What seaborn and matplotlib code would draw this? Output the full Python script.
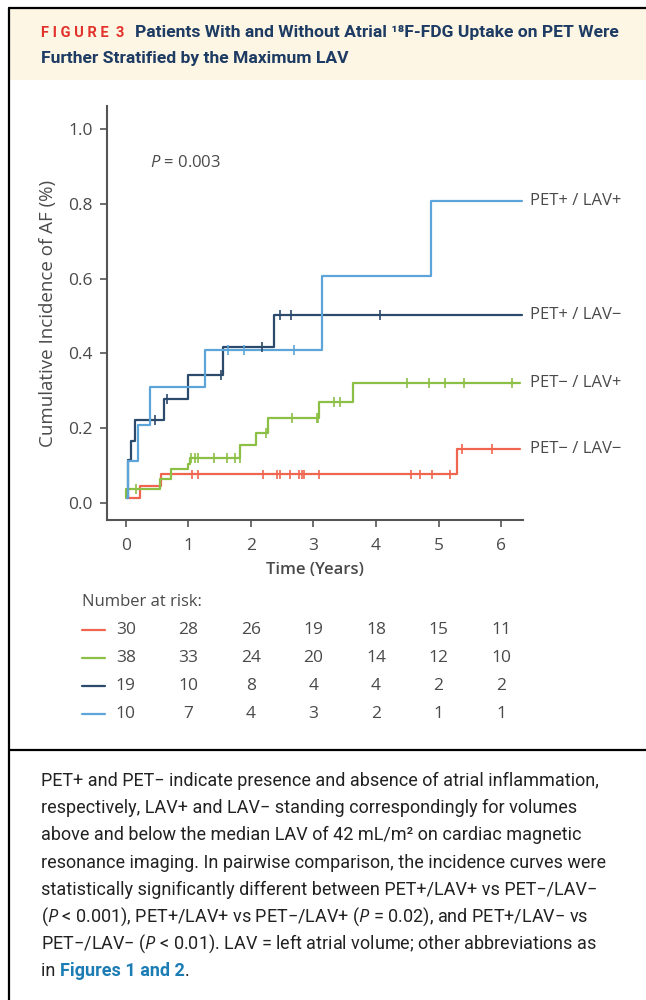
import numpy as np
import pandas as pd
import matplotlib
matplotlib.use("Agg")
import matplotlib.pyplot as plt
import matplotlib.transforms as mtransforms
from matplotlib.patches import Rectangle
from matplotlib.lines import Line2D
import seaborn as sns

# step curves: time (years) of each jump and the cumulative incidence after it
pp_t = [0.02, 0.03, 0.19, 0.39, 1.27, 3.14, 4.88, 6.33]
pp_y = [0.012, 0.112, 0.208, 0.311, 0.409, 0.607, 0.808, 0.808]
pm_t = [0.02, 0.03, 0.04, 0.085, 0.14, 0.61, 0.99, 1.56, 2.37, 6.33]
pm_y = [0.012, 0.06, 0.114, 0.166, 0.221, 0.277, 0.342, 0.418, 0.502, 0.502]
mp_t = [0.0, 0.01, 0.55, 0.73, 0.99, 1.02, 1.83, 2.08, 2.27, 3.09, 3.64, 6.31]
mp_y = [0.012, 0.038, 0.065, 0.090, 0.105, 0.120, 0.154, 0.187, 0.227, 0.270, 0.320, 0.320]
mm_t = [0.02, 0.22, 0.57, 5.30, 6.31]
mm_y = [0.012, 0.044, 0.076, 0.145, 0.145]

# censoring times
pp_cens = [1.64, 1.89, 2.69]
pm_cens = [0.46, 0.66, 1.52, 2.18, 2.47, 2.64, 4.07]
mp_cens = [0.165, 1.04, 1.10, 1.16, 1.41, 1.62, 1.75, 1.82, 2.24, 2.66, 3.05, 3.08,
           3.33, 3.43, 4.49, 4.85, 5.10, 5.40, 6.18]
mm_cens = [1.06, 1.16, 2.20, 2.41, 2.47, 2.62, 2.77, 2.81, 2.85, 3.09, 4.56, 4.70,
           4.89, 5.19, 5.38, 5.86]

groups = ["PET+ / LAV+", "PET+ / LAV\u2212", "PET\u2212 / LAV+", "PET\u2212 / LAV\u2212"]
colors = ["#5DA5D9", "#2C4A6B", "#8CBF45", "#F0654F"]

# number at risk (rows: PET-/LAV-, PET-/LAV+, PET+/LAV-, PET+/LAV+)
risk_times = [0, 1, 2, 3, 4, 5, 6]
risk_mm = [30, 28, 26, 19, 18, 15, 11]
risk_mp = [38, 33, 24, 20, 14, 12, 10]
risk_pm = [19, 10, 8, 4, 4, 2, 2]
risk_pp = [10, 7, 4, 3, 2, 1, 1]

caption_lines = [
    "PET+ and PET\u2212 indicate presence and absence of atrial inflammation,",
    "respectively, LAV+ and LAV\u2212 standing correspondingly for volumes",
    "above and below the median LAV of 42 mL/m\u00b2 on cardiac magnetic",
    "resonance imaging. In pairwise comparison, the incidence curves were",
    "statistically significantly different between PET+/LAV+ vs PET\u2212/LAV\u2212",
    "($P$ < 0.001), PET+/LAV+ vs PET\u2212/LAV+ ($P$ = 0.02), and PET+/LAV\u2212 vs",
    "PET\u2212/LAV\u2212 ($P$ < 0.01). LAV = left atrial volume; other abbreviations as",
]


def value_at(t, y, c):
    idx = np.searchsorted(t, c, side="right") - 1
    return np.asarray(y)[idx]


sns.set_style("ticks")
chart_font = ["Open Sans", "DejaVu Sans"]
text_font = ["Roboto", "DejaVu Sans"]
plt.rcParams["font.family"] = chart_font
plt.rcParams["mathtext.fontset"] = "custom"
plt.rcParams["mathtext.rm"] = "Open Sans"
plt.rcParams["mathtext.it"] = "Open Sans:italic"
grey = "#4a4a4a"

W, H = 646, 1000
fig = plt.figure(figsize=(W / 100, H / 100), dpi=100)


def fx(x):
    return x / W


def fy(y):
    return 1 - y / H


# frame, header band, divider
fig.add_artist(Rectangle((fx(9), fy(80)), 1, fy(8) - fy(80), transform=fig.transFigure,
                         facecolor="#FDF6E4", edgecolor="none", zorder=0))
fig.add_artist(Line2D([fx(9), fx(9)], [fy(8), 0], transform=fig.transFigure, color="black", lw=1.6))
fig.add_artist(Line2D([fx(9), 1], [fy(8), fy(8)], transform=fig.transFigure, color="black", lw=1.6))
fig.add_artist(Line2D([fx(9), 1], [fy(750), fy(750)], transform=fig.transFigure, color="black", lw=1.6))

fig.text(fx(41), fy(33), "F I G U R E  3", color="#E2302A", fontsize=10.5, fontweight="bold",
         family=text_font, va="center")
fig.text(fx(135), fy(33), "Patients With and Without Atrial \u00b9\u2078F-FDG Uptake on PET Were",
         color="#1D3B63", fontsize=12.6, fontweight="bold", family=text_font, va="center")
fig.text(fx(41), fy(58), "Further Stratified by the Maximum LAV",
         color="#1D3B63", fontsize=12.6, fontweight="bold", family=text_font, va="center")

# main plot
ax = fig.add_axes([fx(107), fy(520), fx(523) - fx(107), (520 - 106) / H])

curves = pd.concat([
    pd.DataFrame({"time": mm_t, "inc": mm_y, "group": groups[3]}),
    pd.DataFrame({"time": mp_t, "inc": mp_y, "group": groups[2]}),
    pd.DataFrame({"time": pm_t, "inc": pm_y, "group": groups[1]}),
    pd.DataFrame({"time": pp_t, "inc": pp_y, "group": groups[0]}),
], ignore_index=True)
cens = pd.concat([
    pd.DataFrame({"time": mm_cens, "inc": value_at(mm_t, mm_y, mm_cens), "group": groups[3]}),
    pd.DataFrame({"time": mp_cens, "inc": value_at(mp_t, mp_y, mp_cens), "group": groups[2]}),
    pd.DataFrame({"time": pm_cens, "inc": value_at(pm_t, pm_y, pm_cens), "group": groups[1]}),
    pd.DataFrame({"time": pp_cens, "inc": value_at(pp_t, pp_y, pp_cens), "group": groups[0]}),
], ignore_index=True)
pal = dict(zip(groups, colors))

sns.lineplot(data=curves, x="time", y="inc", hue="group", palette=pal,
             drawstyle="steps-post", estimator=None, linewidth=1.6, legend=False, ax=ax)
sns.scatterplot(data=cens, x="time", y="inc", hue="group", palette=pal, marker="|",
                s=50, linewidth=1.2, legend=False, ax=ax, zorder=3)

ax.set_xlim(-0.30, 6.35)
ax.set_ylim(-0.046, 1.062)
ax.set_xticks(range(7))
ax.set_yticks(np.arange(0, 1.01, 0.2))
ax.set_yticklabels([f"{v:.1f}" for v in np.arange(0, 1.01, 0.2)])
ax.tick_params(colors="#555555", labelcolor=grey, labelsize=12.5, length=5, width=1.2)
ax.tick_params(axis="x", pad=8)
ax.tick_params(axis="y", pad=5)
for s in ["left", "bottom"]:
    ax.spines[s].set_color("#555555")
    ax.spines[s].set_linewidth(1.5)
sns.despine(ax=ax)
ax.set_xlabel("Time (Years)", fontsize=12, color=grey, fontweight="semibold", labelpad=6)
ax.set_ylabel("Cumulative Incidence of AF (%)", fontsize=13.5, color=grey, labelpad=8)

ax.text(0.39, 0.909, "$P$ = 0.003", fontsize=12, color=grey, va="center")
for g, t, y in zip(groups, [pp_t, pm_t, mp_t, mm_t], [pp_y, pm_y, mp_y, mm_y]):
    ax.text(6.46, y[-1], g, fontsize=12, color=grey, va="center", ha="left", clip_on=False)

# number at risk table
fig.text(fx(82), fy(602), "Number at risk:", fontsize=12, color=grey, va="center")
row_tr = mtransforms.blended_transform_factory(ax.transData, fig.transFigure)
rows = [(risk_mm, colors[3]), (risk_mp, colors[2]), (risk_pm, colors[1]), (risk_pp, colors[0])]
for i, (vals, c) in enumerate(rows):
    yy = fy(630 + i * 28)
    fig.add_artist(Line2D([fx(82), fx(105)], [yy, yy], transform=fig.transFigure, color=c, lw=1.6))
    for t, v in zip(risk_times, vals):
        fig.text(t, yy, str(v), transform=row_tr, fontsize=12.5, color=grey,
                 ha="center", va="center")

# caption
cap_size = 13
for i, line in enumerate(caption_lines):
    fig.text(fx(41), fy(781 + i * 27.2), line, fontsize=cap_size, color="#222222",
             family=text_font, va="center")
last_y = fy(781 + 7 * 27.2)
t_in = fig.text(fx(41), last_y, "in ", fontsize=cap_size, color="#222222", family=text_font, va="center")
fig.canvas.draw()
x1 = t_in.get_window_extent().x1 / fig.bbox.width
t_fig = fig.text(x1, last_y, "Figures 1 and 2", fontsize=cap_size, color="#1C7DB4",
                 fontweight="bold", family=text_font, va="center")
fig.canvas.draw()
x2 = t_fig.get_window_extent().x1 / fig.bbox.width
fig.text(x2, last_y, ".", fontsize=cap_size, color="#222222", family=text_font, va="center")

fig.savefig("out.png", dpi=100)
